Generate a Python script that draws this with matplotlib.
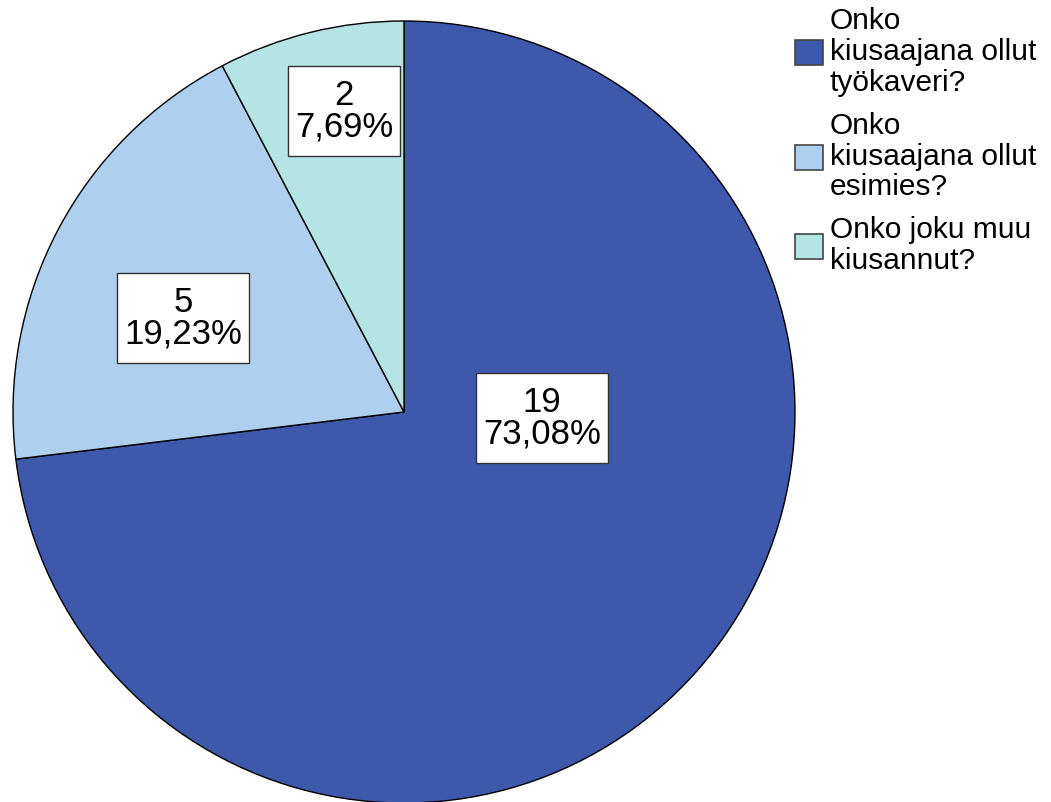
import matplotlib.pyplot as plt
from matplotlib.patches import Patch, Rectangle

plt.rcParams['font.family'] = ['Liberation Sans', 'DejaVu Sans']

# data
categories = ['Onko\nkiusaajana ollut\ntyökaveri?',
              'Onko\nkiusaajana ollut\nesimies?',
              'Onko joku muu\nkiusannut?']
counts = [19, 5, 2]
percent_labels = ['73,08%', '19,23%', '7,69%']
colors = ['#3e58ac', '#aecfee', '#b4e4e4']

# label box offsets from the pie centre (pixels)
label_offsets = [(138, -6), (-221, 94), (-60, 301)]

fig = plt.figure(figsize=(10.51, 8.02), dpi=100)
ax = fig.add_axes([0, 0, 1, 1])

cx, cy, r = 404, 390, 391
ax.pie(counts, colors=colors, startangle=90, counterclock=False,
       center=(cx, cy), radius=r, frame=True,
       wedgeprops=dict(edgecolor='black', linewidth=1))
ax.set_xlim(0, 1051)
ax.set_ylim(0, 802)
ax.axis('off')

texts = []
for n, p, (dx, dy) in zip(counts, percent_labels, label_offsets):
    t = ax.text(cx + dx, cy + dy, f'{n}\n{p}', ha='center', va='center',
                fontsize=25, linespacing=0.96, zorder=5)
    texts.append(t)

# white boxes around the labels, padded a bit more vertically
fig.canvas.draw()
renderer = fig.canvas.get_renderer()
for t in texts:
    bb = t.get_window_extent(renderer)
    padx, pady = 7, 12.5
    ax.add_patch(Rectangle((bb.x0 - padx, bb.y0 - pady), bb.width + 2 * padx,
                           bb.height + 2 * pady, facecolor='white',
                           edgecolor='#333333', linewidth=1, zorder=4))

handles = [Patch(facecolor=c, edgecolor='#444444', linewidth=1.2) for c in colors]
fig.legend(handles, categories, loc='upper left',
           bbox_to_anchor=(795 / 1051, 1 - 7 / 802), frameon=False,
           fontsize=21.5, handlelength=0.93, handleheight=0.93,
           handletextpad=0.23, labelspacing=0.5, borderpad=0,
           borderaxespad=0)
for t in fig.legends[0].get_texts():
    t.set_linespacing(1.13)

plt.savefig('out.png', dpi=100)
